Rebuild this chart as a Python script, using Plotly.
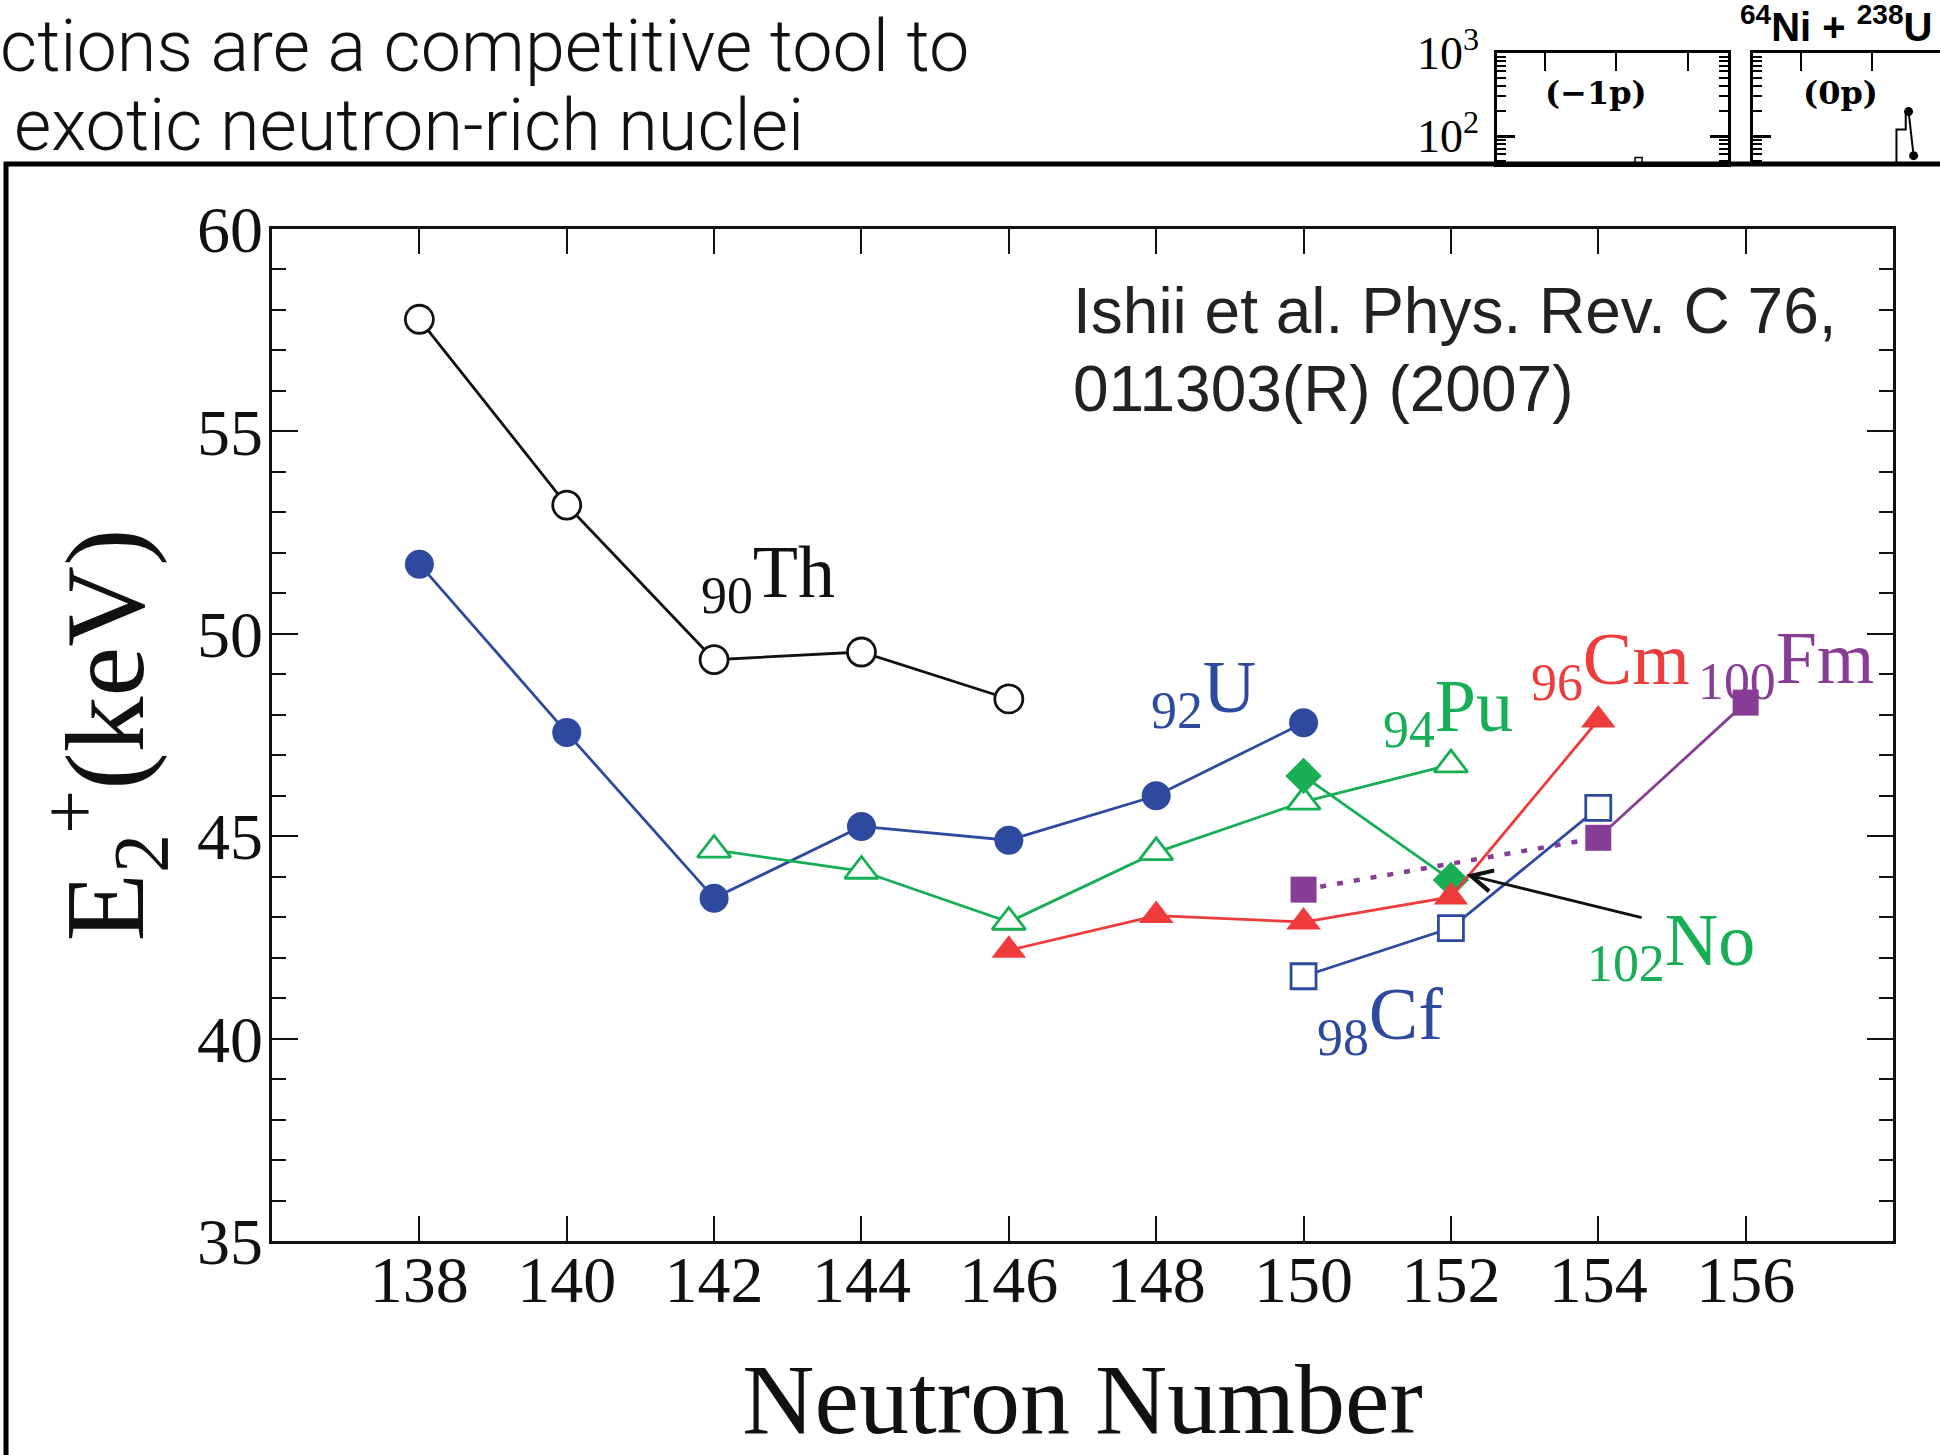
import plotly.graph_objects as go

W, H = 1940, 1455

# ---------------- data ----------------
th_n = [138, 140, 142, 144, 146]
th_e = [57.77, 53.18, 49.36, 49.55, 48.39]

u_n = [138, 140, 142, 144, 146, 148, 150]
u_e = [51.72, 47.56, 43.47, 45.24, 44.90, 46.00, 47.80]

pu_n = [142, 144, 146, 148, 150, 152]
pu_e = [44.66, 44.14, 42.88, 44.60, 45.85, 46.77]

cm_n = [146, 148, 150, 152, 154]
cm_e = [42.18, 43.04, 42.88, 43.50, 47.87]

cf_n = [150, 152, 154]
cf_e = [41.54, 42.73, 45.70]

fm_dot_n = [150, 154]
fm_dot_e = [43.68, 44.96]
fm_n = [154, 156]
fm_e = [44.96, 48.30]

no_n = [150, 152]
no_e = [46.49, 43.92]

x_ticks = [138, 140, 142, 144, 146, 148, 150, 152, 154, 156]
y_ticks = [35, 40, 45, 50, 55, 60]

# inset fragment (top right of slide)
inset_left_x = [1.31]
inset_left_y = [50]
inset_step_x = [1.34, 1.34, 1.47, 1.47]
inset_step_y = [30, 120, 120, 197]
inset_dot_x = [1.51, 1.58]
inset_dot_y = [197, 58]

BLACK = "#111111"
BLUE = "#2D4A9F"
GREEN = "#17AE56"
RED = "#EE3C3C"
PURPLE = "#873D95"
SERIF = "Liberation Serif"

def px2x(p):
    return p / W

def py2y(p):
    return 1 - p / H

fig = go.Figure()

def add(xs, ys, color, symbol, size, filled, dash="solid", lw=2.8, mode="lines+markers"):
    fig.add_trace(go.Scatter(
        x=xs, y=ys, mode=mode,
        line=dict(color=color, width=lw, dash=dash),
        marker=dict(symbol=symbol, size=size,
                    color=color if filled else "white",
                    line=dict(color=color, width=0 if filled else 2.8)),
        showlegend=False, xaxis="x", yaxis="y"))

add(th_n, th_e, BLACK, "circle", 28, False)
add(u_n, u_e, BLUE, "circle", 29, True)
add(pu_n, pu_e, GREEN, "triangle-up", 29, False)
fig.add_trace(go.Scatter(x=fm_dot_n, y=fm_dot_e, mode="lines",
                         line=dict(color=PURPLE, width=4.5, dash="6px,11px"),
                         showlegend=False))
add(fm_n, fm_e, PURPLE, "square", 26, True)
add(fm_dot_n[:1], fm_dot_e[:1], PURPLE, "square", 26, True, mode="markers")
add(no_n, no_e, GREEN, "diamond", 28, True)
add(cf_n, cf_e, BLUE, "square", 25, False)
add(cm_n, cm_e, RED, "triangle-up", 30, True)

# inset traces
fig.add_trace(go.Scatter(x=inset_left_x, y=inset_left_y, mode="markers",
                         marker=dict(symbol="square-open", size=7, color="black",
                                     line=dict(width=1.5)),
                         xaxis="x2", yaxis="y2", showlegend=False))
fig.add_trace(go.Scatter(x=inset_step_x, y=inset_step_y, mode="lines",
                         line=dict(color="black", width=2),
                         xaxis="x3", yaxis="y3", showlegend=False))
fig.add_trace(go.Scatter(x=inset_dot_x, y=inset_dot_y, mode="lines+markers",
                         line=dict(color="black", width=2),
                         marker=dict(size=9, color="black"),
                         xaxis="x3", yaxis="y3", showlegend=False))

tickfont = dict(family=SERIF, size=66, color=BLACK)

fig.update_layout(
    width=W, height=H,
    margin=dict(l=0, r=0, t=0, b=0, autoexpand=False),
    paper_bgcolor="white", plot_bgcolor="white",
    xaxis=dict(domain=[px2x(272), px2x(1893)], range=[136, 158], automargin=False,
               tickvals=x_ticks, ticks="inside", ticklen=25, tickwidth=2,
               tickcolor=BLACK, showline=True, linewidth=2.5, linecolor=BLACK,
               mirror="ticks", showgrid=False, zeroline=False,
               tickfont=tickfont, ticklabelstandoff=-21,
               title=dict(text="Neutron Number", font=dict(family=SERIF, size=100, color=BLACK),
                          standoff=58),
               anchor="y"),
    yaxis=dict(domain=[py2y(1241), py2y(229)], range=[35, 60], automargin=False,
               tickvals=y_ticks, ticks="inside", ticklen=26, tickwidth=2,
               tickcolor=BLACK, showline=True, linewidth=2.5, linecolor=BLACK,
               mirror="ticks", showgrid=False, zeroline=False,
               minor=dict(dtick=1, ticks="inside", ticklen=14, tickwidth=2, tickcolor=BLACK, showgrid=False),
               tickfont=tickfont, ticklabelstandoff=-7,
               title=dict(text="E<sub>2</sub><sup>+</sup>(keV)",
                          font=dict(family=SERIF, size=112, color=BLACK), standoff=16),
               anchor="x"),
    # inset fragment axes
    xaxis2=dict(domain=[px2x(1497), px2x(1728)], range=[-0.67, 2.56], side="top", automargin=False,
                tickvals=[0, 1, 2], ticks="inside", ticklen=18, tickwidth=2, tickcolor="black",
                showticklabels=False, showline=True, linewidth=2.5, linecolor="black",
                mirror=True, showgrid=False, zeroline=False, anchor="y2"),
    yaxis2=dict(domain=[py2y(164), py2y(53)], type="log", range=[1.663, 3.0], automargin=False,
                tickvals=[100, 1000], ticktext=["10<sup>2</sup>", "10<sup>3</sup>"],
                ticks="inside", ticklen=18, tickwidth=2.5, tickcolor="black",
                minor=dict(tickvals=[50, 60, 70, 80, 90, 200, 300, 400, 500, 600, 700, 800, 900],
                           ticks="inside", ticklen=9, tickwidth=1.5, tickcolor="black"),
                tickfont=dict(family=SERIF, size=46, color="black"), ticklabelstandoff=6,
                showline=True, linewidth=2.5, linecolor="black", mirror="ticks",
                showgrid=False, zeroline=False, anchor="x2"),
    xaxis3=dict(domain=[px2x(1753), 1.0], range=[-0.67, 1.95], side="top", automargin=False,
                tickvals=[0, 1], ticks="inside", ticklen=18, tickwidth=2, tickcolor="black",
                showticklabels=False, showline=True, linewidth=2.5, linecolor="black",
                showgrid=False, zeroline=False, anchor="y3"),
    yaxis3=dict(domain=[py2y(164), py2y(53)], type="log", range=[1.663, 3.0], automargin=False,
                tickvals=[100, 1000], showticklabels=False,
                ticks="inside", ticklen=18, tickwidth=2.5, tickcolor="black",
                minor=dict(tickvals=[50, 60, 70, 80, 90, 200, 300, 400, 500, 600, 700, 800, 900],
                           ticks="inside", ticklen=9, tickwidth=1.5, tickcolor="black"),
                showline=True, linewidth=2.5, linecolor="black",
                showgrid=False, zeroline=False, anchor="x3"),
)

lab_font = dict(family=SERIF, size=74)
labels = [
    ("<sub>90</sub>Th", 141.80, 51.60, BLACK),
    ("<sub>92</sub>U", 147.90, 48.75, BLUE),
    ("<sub>94</sub>Pu", 151.05, 48.29, GREEN),
    ("<sub>96</sub>Cm", 153.06, 49.43, RED),
    ("<sub>100</sub>Fm", 155.33, 49.46, PURPLE),
    ("<sub>102</sub>No", 153.82, 42.49, GREEN),
    ("<sub>98</sub>Cf", 150.16, 40.68, BLUE),
]
for txt, x, y, c in labels:
    fig.add_annotation(x=x, y=y, xref="x", yref="y", text=txt, showarrow=False,
                       xanchor="left", yanchor="middle", yshift=-8,
                       font=dict(lab_font, color=c))

# arrow to No point
fig.add_annotation(x=152.21, y=44.05, ax=154.61, ay=42.98, xref="x", yref="y",
                   axref="x", ayref="y", text="", showarrow=True,
                   arrowhead=5, arrowsize=1.4, arrowwidth=3, arrowcolor=BLACK)

# reference text
ref_font = dict(family="Liberation Sans", size=64, color="#222222")
fig.add_annotation(x=146.84, y=57.98, xref="x", yref="y", text="Ishii et al. Phys. Rev. C 76,",
                   showarrow=False, xanchor="left", yanchor="middle", font=ref_font)
fig.add_annotation(x=146.84, y=56.05, xref="x", yref="y", text="011303(R) (2007)",
                   showarrow=False, xanchor="left", yanchor="middle", font=ref_font)

# slide text (cropped)
slide_font = dict(family="Roboto", size=72, color="#111111", weight=300)
fig.add_annotation(x=px2x(-2), y=py2y(47), xref="paper", yref="paper",
                   text="ctions are a competitive tool to", showarrow=False,
                   xanchor="left", yanchor="middle", font=slide_font)
fig.add_annotation(x=px2x(12), y=py2y(125), xref="paper", yref="paper",
                   text="exotic neutron-rich nuclei", showarrow=False,
                   xanchor="left", yanchor="middle", font=slide_font)

# inset texts
fig.add_annotation(x=px2x(1596), y=py2y(93), xref="paper", yref="paper", text="(−1p)",
                   showarrow=False, xanchor="center", yanchor="middle",
                   font=dict(family="DejaVu Serif", size=32, color="black", weight="bold"))
fig.add_annotation(x=px2x(1840), y=py2y(93), xref="paper", yref="paper", text="(0p)",
                   showarrow=False, xanchor="center", yanchor="middle",
                   font=dict(family="DejaVu Serif", size=32, color="black", weight="bold"))
fig.add_annotation(x=px2x(1738), y=py2y(24), xref="paper", yref="paper",
                   text="<sup>64</sup>Ni + <sup>238</sup>U", showarrow=False,
                   xanchor="left", yanchor="middle",
                   font=dict(family="Liberation Sans", size=40, color="black", weight="bold"))

# slide frame around chart
fig.add_shape(type="rect", xref="paper", yref="paper",
              x0=px2x(6), x1=1.02, y0=-0.02, y1=py2y(164),
              line=dict(color="black", width=5), fillcolor="rgba(0,0,0,0)")

fig.write_html("out.html")
